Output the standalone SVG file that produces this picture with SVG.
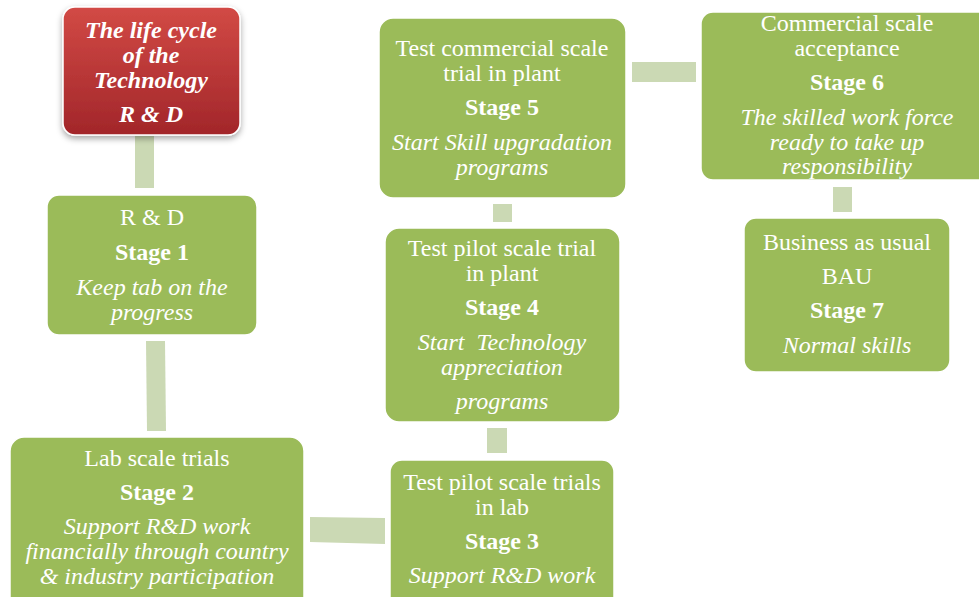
<svg xmlns="http://www.w3.org/2000/svg" width="979" height="597" viewBox="0 0 979 597">
<defs>
<linearGradient id="red" x1="0" y1="0" x2="0" y2="1">
<stop offset="0" stop-color="#D24A45"/>
<stop offset="1" stop-color="#A2262A"/>
</linearGradient>
<filter id="sh" x="-20%" y="-20%" width="140%" height="150%">
<feDropShadow dx="0" dy="3" stdDeviation="3" flood-color="#000" flood-opacity="0.35"/>
</filter>
</defs>
<style>
.box{fill:#9BBB59;stroke:#fff;stroke-width:1.5}
.con{fill:#CBD9B4}
text{font-family:"Liberation Serif","Times New Roman",serif;font-size:24px;fill:#fff;text-anchor:middle}
.b{font-weight:bold}
.i{font-style:italic}
.bi{font-weight:bold;font-style:italic}
</style>
<rect width="979" height="597" fill="#fff"/>
<g id="connectors">
<rect class="con" x="135" y="136" width="19" height="52"/>
<polygon class="con" points="146,341 165,341 166,431 147,431"/>
<polygon class="con" points="310,517 385,518 385,544 310,542"/>
<rect class="con" x="487" y="428" width="20" height="25"/>
<rect class="con" x="493" y="204" width="19" height="18"/>
<rect class="con" x="632" y="62" width="64" height="20"/>
<rect class="con" x="833" y="187" width="19" height="25"/>
</g>
<g id="title">
<rect x="63" y="7" width="177" height="128" rx="12" fill="url(#red)" stroke="#fff" stroke-width="1.5" filter="url(#sh)"/>
<text class="bi" x="151" y="38">The life cycle</text>
<text class="bi" x="151" y="63">of the</text>
<text class="bi" x="151" y="88">Technology</text>
<text class="bi" x="151" y="122">R &amp; D</text>
</g>
<g id="stage1">
<rect class="box" x="47" y="195" width="210" height="140" rx="12"/>
<text x="152" y="225">R &amp; D</text>
<text class="b" x="152" y="260">Stage 1</text>
<text class="i" x="152" y="295">Keep tab on the</text>
<text class="i" x="152" y="320">progress</text>
</g>
<g id="stage2">
<rect class="box" x="10" y="437" width="294" height="175" rx="14"/>
<text x="157" y="466">Lab scale trials</text>
<text class="b" x="157" y="500">Stage 2</text>
<text class="i" x="157" y="534">Support R&amp;D work</text>
<text class="i" x="157" y="559">financially through country</text>
<text class="i" x="157" y="584">&amp; industry participation</text>
</g>
<g id="stage3">
<rect class="box" x="390" y="460" width="224" height="150" rx="12"/>
<text x="502" y="490">Test pilot scale trials</text>
<text x="502" y="515">in lab</text>
<text class="b" x="502" y="549">Stage 3</text>
<text class="i" x="502" y="583">Support R&amp;D work</text>
</g>
<g id="stage4">
<rect class="box" x="385" y="228" width="235" height="194" rx="14"/>
<text x="502" y="256">Test pilot scale trial</text>
<text x="502" y="281">in plant</text>
<text class="b" x="502" y="315">Stage 4</text>
<text class="i" x="502" y="350" xml:space="preserve">Start  Technology</text>
<text class="i" x="502" y="375">appreciation</text>
<text class="i" x="502" y="409">programs</text>
</g>
<g id="stage5">
<rect class="box" x="379" y="18" width="247" height="180" rx="14"/>
<text x="502" y="56">Test commercial scale</text>
<text x="502" y="81">trial in plant</text>
<text class="b" x="502" y="115">Stage 5</text>
<text class="i" x="502" y="150">Start Skill upgradation</text>
<text class="i" x="502" y="175">programs</text>
</g>
<g id="stage6">
<rect class="box" x="701" y="12" width="290" height="168" rx="12"/>
<text x="847" y="31">Commercial scale</text>
<text x="847" y="56">acceptance</text>
<text class="b" x="847" y="90">Stage 6</text>
<text class="i" x="847" y="125">The skilled work force</text>
<text class="i" x="847" y="150">ready to take up</text>
<text class="i" x="847" y="174">responsibility</text>
</g>
<g id="stage7">
<rect class="box" x="744" y="218" width="206" height="154" rx="12"/>
<text x="847" y="250">Business as usual</text>
<text x="847" y="284">BAU</text>
<text class="b" x="847" y="318">Stage 7</text>
<text class="i" x="847" y="353">Normal skills</text>
</g>
</svg>
